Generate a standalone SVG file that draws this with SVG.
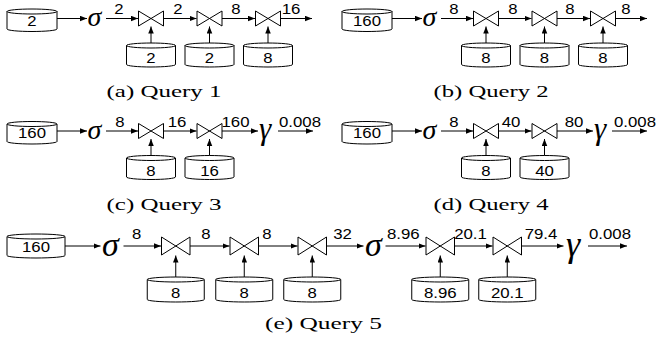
<svg xmlns="http://www.w3.org/2000/svg" width="658" height="343" viewBox="0 0 658 343">
<defs>
<marker id="ah" markerUnits="userSpaceOnUse" markerWidth="8" markerHeight="6" refX="7" refY="2.75" orient="auto"><path d="M0,0 L7,2.75 L0,5.5 Z" fill="#000"/></marker>
</defs>
<style>
.c{fill:#fff;stroke:#000;stroke-width:1}
.j{fill:none;stroke:#000;stroke-width:1;stroke-linejoin:miter}
.e{fill:none;stroke:#000;stroke-width:1;marker-end:url(#ah)}
.n{font-family:"Liberation Sans",Arial,sans-serif;font-size:14px;text-anchor:middle;fill:#000}
.g{font-family:"Liberation Serif","Times New Roman",serif;font-style:italic;font-size:28px;fill:#000}
.gy{font-family:"Liberation Serif","Times New Roman",serif;font-style:italic;font-size:31px;fill:#000}
.g2{font-family:"Liberation Serif","Times New Roman",serif;font-style:italic;font-size:34px;fill:#000}
.gy2{font-family:"Liberation Serif","Times New Roman",serif;font-style:italic;font-size:36px;fill:#000}
.cap{font-family:"Liberation Serif","Times New Roman",serif;font-size:17px;text-anchor:middle;fill:#000}
</style>
<rect width="658" height="343" fill="#fff"/>

<!-- Query 1 -->
<g id="q1">
<g id="q1-src"><path class="c" d="M7,11.5 A25,2.5 0 0 1 57,11.5 A25,2.5 0 0 1 7,11.5 Z M7,11.5 V29 A25,2.5 0 0 0 57,29 V11.5"/><text class="n" x="32" y="25.5" textLength="9.3" lengthAdjust="spacingAndGlyphs">2</text></g>
<g id="q1-sel"><text class="g" x="87.5" y="26">σ</text></g>
<g id="q1-j1"><polygon class="j" points="138.5,11 163.5,26 163.5,11 138.5,26"/></g>
<g id="q1-j2"><polygon class="j" points="197,11 222,26 222,11 197,26"/></g>
<g id="q1-j3"><polygon class="j" points="255.5,11 280.5,26 280.5,11 255.5,26"/></g>
<g id="q1-t1"><path class="c" d="M126.5,45.5 A24.5,2.5 0 0 1 175.5,45.5 A24.5,2.5 0 0 1 126.5,45.5 Z M126.5,45.5 V64.5 A24.5,2.5 0 0 0 175.5,64.5 V45.5"/><text class="n" x="151" y="63" textLength="9.3" lengthAdjust="spacingAndGlyphs">2</text></g>
<g id="q1-t2"><path class="c" d="M185,45.5 A24.5,2.5 0 0 1 234,45.5 A24.5,2.5 0 0 1 185,45.5 Z M185,45.5 V64.5 A24.5,2.5 0 0 0 234,64.5 V45.5"/><text class="n" x="209.5" y="63" textLength="9.3" lengthAdjust="spacingAndGlyphs">2</text></g>
<g id="q1-t3"><path class="c" d="M243.5,45.5 A24.5,2.5 0 0 1 292.5,45.5 A24.5,2.5 0 0 1 243.5,45.5 Z M243.5,45.5 V64.5 A24.5,2.5 0 0 0 292.5,64.5 V45.5"/><text class="n" x="268" y="63" textLength="9.3" lengthAdjust="spacingAndGlyphs">8</text></g>
<text class="cap" x="164" y="97" textLength="115" lengthAdjust="spacingAndGlyphs">(a) Query 1</text>
</g>

<!-- Query 2 -->
<g id="q2">
<g id="q2-src"><path class="c" d="M342,11.5 A25,2.5 0 0 1 392,11.5 A25,2.5 0 0 1 342,11.5 Z M342,11.5 V29 A25,2.5 0 0 0 392,29 V11.5"/><text class="n" x="367" y="25.5" textLength="28" lengthAdjust="spacingAndGlyphs">160</text></g>
<g id="q2-sel"><text class="g" x="422.5" y="26">σ</text></g>
<g id="q2-j1"><polygon class="j" points="473.5,11 498.5,26 498.5,11 473.5,26"/></g>
<g id="q2-j2"><polygon class="j" points="532,11 557,26 557,11 532,26"/></g>
<g id="q2-j3"><polygon class="j" points="590.5,11 615.5,26 615.5,11 590.5,26"/></g>
<g id="q2-t1"><path class="c" d="M461.5,45.5 A24.5,2.5 0 0 1 510.5,45.5 A24.5,2.5 0 0 1 461.5,45.5 Z M461.5,45.5 V64.5 A24.5,2.5 0 0 0 510.5,64.5 V45.5"/><text class="n" x="486" y="63" textLength="9.3" lengthAdjust="spacingAndGlyphs">8</text></g>
<g id="q2-t2"><path class="c" d="M520,45.5 A24.5,2.5 0 0 1 569,45.5 A24.5,2.5 0 0 1 520,45.5 Z M520,45.5 V64.5 A24.5,2.5 0 0 0 569,64.5 V45.5"/><text class="n" x="544.5" y="63" textLength="9.3" lengthAdjust="spacingAndGlyphs">8</text></g>
<g id="q2-t3"><path class="c" d="M578.5,45.5 A24.5,2.5 0 0 1 627.5,45.5 A24.5,2.5 0 0 1 578.5,45.5 Z M578.5,45.5 V64.5 A24.5,2.5 0 0 0 627.5,64.5 V45.5"/><text class="n" x="603" y="63" textLength="9.3" lengthAdjust="spacingAndGlyphs">8</text></g>
<text class="cap" x="491" y="97" textLength="115" lengthAdjust="spacingAndGlyphs">(b) Query 2</text>
</g>

<!-- Query 3 -->
<g id="q3">
<g id="q3-src"><path class="c" d="M7,124 A25,2.5 0 0 1 57,124 A25,2.5 0 0 1 7,124 Z M7,124 V141.5 A25,2.5 0 0 0 57,141.5 V124"/><text class="n" x="32" y="138" textLength="28" lengthAdjust="spacingAndGlyphs">160</text></g>
<g id="q3-sel"><text class="g" x="87.5" y="138.5">σ</text></g>
<g id="q3-j1"><polygon class="j" points="138.5,123.5 163.5,138.5 163.5,123.5 138.5,138.5"/></g>
<g id="q3-j2"><polygon class="j" points="197,123.5 222,138.5 222,123.5 197,138.5"/></g>
<g id="q3-agg"><text class="gy" x="259" y="139">γ</text></g>
<g id="q3-t1"><path class="c" d="M126.5,158 A24.5,2.5 0 0 1 175.5,158 A24.5,2.5 0 0 1 126.5,158 Z M126.5,158 V177 A24.5,2.5 0 0 0 175.5,177 V158"/><text class="n" x="151" y="175.5" textLength="9.3" lengthAdjust="spacingAndGlyphs">8</text></g>
<g id="q3-t2"><path class="c" d="M185,158 A24.5,2.5 0 0 1 234,158 A24.5,2.5 0 0 1 185,158 Z M185,158 V177 A24.5,2.5 0 0 0 234,177 V158"/><text class="n" x="209.5" y="175.5" textLength="18.7" lengthAdjust="spacingAndGlyphs">16</text></g>
<text class="cap" x="164" y="209.5" textLength="115" lengthAdjust="spacingAndGlyphs">(c) Query 3</text>
</g>

<!-- Query 4 -->
<g id="q4">
<g id="q4-src"><path class="c" d="M342,124 A25,2.5 0 0 1 392,124 A25,2.5 0 0 1 342,124 Z M342,124 V141.5 A25,2.5 0 0 0 392,141.5 V124"/><text class="n" x="367" y="138" textLength="28" lengthAdjust="spacingAndGlyphs">160</text></g>
<g id="q4-sel"><text class="g" x="422.5" y="138.5">σ</text></g>
<g id="q4-j1"><polygon class="j" points="473.5,123.5 498.5,138.5 498.5,123.5 473.5,138.5"/></g>
<g id="q4-j2"><polygon class="j" points="532,123.5 557,138.5 557,123.5 532,138.5"/></g>
<g id="q4-agg"><text class="gy" x="594" y="139">γ</text></g>
<g id="q4-t1"><path class="c" d="M461.5,158 A24.5,2.5 0 0 1 510.5,158 A24.5,2.5 0 0 1 461.5,158 Z M461.5,158 V177 A24.5,2.5 0 0 0 510.5,177 V158"/><text class="n" x="486" y="175.5" textLength="9.3" lengthAdjust="spacingAndGlyphs">8</text></g>
<g id="q4-t2"><path class="c" d="M520,158 A24.5,2.5 0 0 1 569,158 A24.5,2.5 0 0 1 520,158 Z M520,158 V177 A24.5,2.5 0 0 0 569,177 V158"/><text class="n" x="544.5" y="175.5" textLength="18.7" lengthAdjust="spacingAndGlyphs">40</text></g>
<text class="cap" x="491" y="209.5" textLength="115" lengthAdjust="spacingAndGlyphs">(d) Query 4</text>
</g>

<!-- Query 5 -->
<g id="q5">
<g id="q5-src"><path class="c" d="M7,236.5 A29,2.5 0 0 1 65,236.5 A29,2.5 0 0 1 7,236.5 Z M7,236.5 V255.5 A29,2.5 0 0 0 65,255.5 V236.5"/><text class="n" x="36" y="252" textLength="28" lengthAdjust="spacingAndGlyphs">160</text></g>
<g id="q5-sel1"><text class="g2" x="102" y="255.5">σ</text></g>
<g id="q5-j1"><polygon class="j" points="161.5,237 190,255 190,237 161.5,255"/></g>
<g id="q5-j2"><polygon class="j" points="230,237 258.5,255 258.5,237 230,255"/></g>
<g id="q5-j3"><polygon class="j" points="298,237 326.5,255 326.5,237 298,255"/></g>
<g id="q5-sel2"><text class="g2" x="365" y="255.5">σ</text></g>
<g id="q5-j4"><polygon class="j" points="426,237 454.5,255 454.5,237 426,255"/></g>
<g id="q5-j5"><polygon class="j" points="493,237 521.5,255 521.5,237 493,255"/></g>
<g id="q5-agg"><text class="gy2" x="566" y="256">γ</text></g>
<g id="q5-t1"><path class="c" d="M147.25,279.5 A28.5,2.5 0 0 1 204.25,279.5 A28.5,2.5 0 0 1 147.25,279.5 Z M147.25,279.5 V299.5 A28.5,2.5 0 0 0 204.25,299.5 V279.5"/><text class="n" x="175.75" y="297.5" textLength="9.3" lengthAdjust="spacingAndGlyphs">8</text></g>
<g id="q5-t2"><path class="c" d="M215.75,279.5 A28.5,2.5 0 0 1 272.75,279.5 A28.5,2.5 0 0 1 215.75,279.5 Z M215.75,279.5 V299.5 A28.5,2.5 0 0 0 272.75,299.5 V279.5"/><text class="n" x="244.25" y="297.5" textLength="9.3" lengthAdjust="spacingAndGlyphs">8</text></g>
<g id="q5-t3"><path class="c" d="M283.75,279.5 A28.5,2.5 0 0 1 340.75,279.5 A28.5,2.5 0 0 1 283.75,279.5 Z M283.75,279.5 V299.5 A28.5,2.5 0 0 0 340.75,299.5 V279.5"/><text class="n" x="312.25" y="297.5" textLength="9.3" lengthAdjust="spacingAndGlyphs">8</text></g>
<g id="q5-t4"><path class="c" d="M411.75,279.5 A28.5,2.5 0 0 1 468.75,279.5 A28.5,2.5 0 0 1 411.75,279.5 Z M411.75,279.5 V299.5 A28.5,2.5 0 0 0 468.75,299.5 V279.5"/><text class="n" x="440.25" y="297.5" textLength="32.7" lengthAdjust="spacingAndGlyphs">8.96</text></g>
<g id="q5-t5"><path class="c" d="M478.75,279.5 A28.5,2.5 0 0 1 535.75,279.5 A28.5,2.5 0 0 1 478.75,279.5 Z M478.75,279.5 V299.5 A28.5,2.5 0 0 0 535.75,299.5 V279.5"/><text class="n" x="507.25" y="297.5" textLength="32.7" lengthAdjust="spacingAndGlyphs">20.1</text></g>
<text class="cap" x="323.5" y="329" textLength="117" lengthAdjust="spacingAndGlyphs">(e) Query 5</text>
</g>

<g id="connectors">
<!-- Q1 -->
<path class="e" d="M57,18.5 H87"/>
<path class="e" d="M106,18.5 H138"/>
<path class="e" d="M163.5,18.5 H196.5"/>
<path class="e" d="M222,18.5 H255"/>
<path class="e" d="M280.5,18.5 H312"/>
<path class="e" d="M151,43 V26.5"/>
<path class="e" d="M209.5,43 V26.5"/>
<path class="e" d="M268,43 V26.5"/>
<text class="n" x="119" y="14" textLength="9.3" lengthAdjust="spacingAndGlyphs">2</text>
<text class="n" x="178" y="14" textLength="9.3" lengthAdjust="spacingAndGlyphs">2</text>
<text class="n" x="236" y="14" textLength="9.3" lengthAdjust="spacingAndGlyphs">8</text>
<text class="n" x="291" y="14" textLength="18.7" lengthAdjust="spacingAndGlyphs">16</text>
<!-- Q2 -->
<path class="e" d="M392,18.5 H422"/>
<path class="e" d="M441,18.5 H473"/>
<path class="e" d="M498.5,18.5 H531.5"/>
<path class="e" d="M557,18.5 H590"/>
<path class="e" d="M615.5,18.5 H647"/>
<path class="e" d="M486,43 V26.5"/>
<path class="e" d="M544.5,43 V26.5"/>
<path class="e" d="M603,43 V26.5"/>
<text class="n" x="454" y="14" textLength="9.3" lengthAdjust="spacingAndGlyphs">8</text>
<text class="n" x="513" y="14" textLength="9.3" lengthAdjust="spacingAndGlyphs">8</text>
<text class="n" x="570" y="14" textLength="9.3" lengthAdjust="spacingAndGlyphs">8</text>
<text class="n" x="626" y="14" textLength="9.3" lengthAdjust="spacingAndGlyphs">8</text>
<!-- Q3 -->
<path class="e" d="M57,131 H87"/>
<path class="e" d="M106,131 H138"/>
<path class="e" d="M163.5,131 H196.5"/>
<path class="e" d="M222,131 H258"/>
<path class="e" d="M278,131 H313"/>
<path class="e" d="M151,155.5 V139"/>
<path class="e" d="M209.5,155.5 V139"/>
<text class="n" x="120" y="126.5" textLength="9.3" lengthAdjust="spacingAndGlyphs">8</text>
<text class="n" x="177" y="126.5" textLength="18.7" lengthAdjust="spacingAndGlyphs">16</text>
<text class="n" x="235.5" y="126.5" textLength="28" lengthAdjust="spacingAndGlyphs">160</text>
<text class="n" x="300" y="126.5" textLength="42" lengthAdjust="spacingAndGlyphs">0.008</text>
<!-- Q4 -->
<path class="e" d="M392,131 H422"/>
<path class="e" d="M441,131 H473"/>
<path class="e" d="M498.5,131 H531.5"/>
<path class="e" d="M557,131 H593"/>
<path class="e" d="M612,131 H647"/>
<path class="e" d="M486,155.5 V139"/>
<path class="e" d="M544.5,155.5 V139"/>
<text class="n" x="454" y="126.5" textLength="9.3" lengthAdjust="spacingAndGlyphs">8</text>
<text class="n" x="511" y="126.5" textLength="18.7" lengthAdjust="spacingAndGlyphs">40</text>
<text class="n" x="574" y="126.5" textLength="18.7" lengthAdjust="spacingAndGlyphs">80</text>
<text class="n" x="635" y="126.5" textLength="42" lengthAdjust="spacingAndGlyphs">0.008</text>
<!-- Q5 -->
<path class="e" d="M65,246 H100.5"/>
<path class="e" d="M123.5,246 H161"/>
<path class="e" d="M190,246 H229.5"/>
<path class="e" d="M258.5,246 H297.5"/>
<path class="e" d="M326.5,246 H363.5"/>
<path class="e" d="M385.5,246 H425.5"/>
<path class="e" d="M454.5,246 H492.5"/>
<path class="e" d="M521.5,246 H563.5"/>
<path class="e" d="M588,246 H627"/>
<path class="e" d="M175.75,277 V255.5"/>
<path class="e" d="M244.25,277 V255.5"/>
<path class="e" d="M312.25,277 V255.5"/>
<path class="e" d="M440.25,277 V255.5"/>
<path class="e" d="M507.25,277 V255.5"/>
<text class="n" x="136.7" y="238.5" textLength="9.3" lengthAdjust="spacingAndGlyphs">8</text>
<text class="n" x="206" y="238.5" textLength="9.3" lengthAdjust="spacingAndGlyphs">8</text>
<text class="n" x="267" y="238.5" textLength="9.3" lengthAdjust="spacingAndGlyphs">8</text>
<text class="n" x="342.5" y="238.5" textLength="18.7" lengthAdjust="spacingAndGlyphs">32</text>
<text class="n" x="403.3" y="238.5" textLength="32.7" lengthAdjust="spacingAndGlyphs">8.96</text>
<text class="n" x="470.5" y="238.5" textLength="32.7" lengthAdjust="spacingAndGlyphs">20.1</text>
<text class="n" x="541" y="238.5" textLength="32.7" lengthAdjust="spacingAndGlyphs">79.4</text>
<text class="n" x="610" y="238.5" textLength="42" lengthAdjust="spacingAndGlyphs">0.008</text>
</g>
</svg>
